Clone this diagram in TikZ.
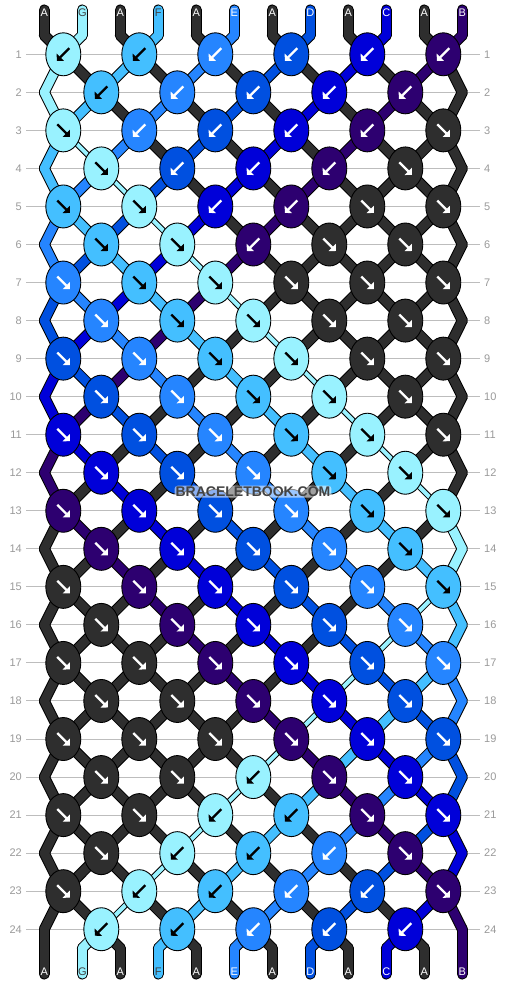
\documentclass[tikz,border=0pt]{standalone}
\usepackage{fontspec}
\setmainfont{Liberation Sans}
\usetikzlibrary{arrows.meta,shapes.geometric}

\definecolor{colA}{HTML}{2E2E2E}
\definecolor{colB}{HTML}{2D0070}
\definecolor{colC}{HTML}{0000D9}
\definecolor{colD}{HTML}{0050E0}
\definecolor{colE}{HTML}{2585FF}
\definecolor{colF}{HTML}{44BFFF}
\definecolor{colG}{HTML}{99F2FF}
\definecolor{rowgray}{HTML}{BDBDBD}
\definecolor{numgray}{HTML}{9A9A9A}

% point of a string (phase #1) at row #2, string start #3
\newcommand\strandpt[3]{%
  \ifnum#2<1
    \pgfmathsetmacro\qx{6.3+38*#3}\def\qy{35.28}\def\qk{0}%
  \else\ifnum#2>24
    \pgfmathsetmacro\qx{6.3+38*#3}\def\qy{948.24}\def\qk{0}%
  \else
    \pgfmathtruncatemacro\strma{mod(#1+#2-1,24)}%
    \pgfmathtruncatemacro\strmb{mod(#1+#2,24)}%
    \pgfmathtruncatemacro\posa{\strma<12 ? \strma+1 : 24-\strma}%
    \pgfmathtruncatemacro\posb{\strmb<12 ? \strmb+1 : 24-\strmb}%
    \pgfmathsetmacro\qx{6.3+19*(\posa+\posb)}%
    \pgfmathsetmacro\qy{16.26+38.04*#2}%
    \ifnum\posa=\posb \def\qk{0}\else\def\qk{1}\fi
  \fi\fi}

\begin{document}
\begin{tikzpicture}[x=1pt, y=-1pt,
    knot/.style={ellipse, draw=black, line width=0.9pt,
      minimum width=35pt, minimum height=43pt, inner sep=0pt},
    arr/.style={line width=2.3pt, -{Triangle[length=5pt,width=10pt]}},
    rowline/.style={draw=rowgray, line width=1pt},
    rownum/.style={text=numgray, inner sep=0pt, font=\fontsize{11}{13}\selectfont},
    strlabel/.style={inner sep=0pt, font=\fontsize{11}{13}\selectfont},
    wmark/.style={inner sep=1pt, font=\bfseries\fontsize{14}{16}\selectfont,
      fill=white, fill opacity=0.55, text opacity=1, rounded corners=3pt}]
	\useasboundingbox (0,0) rectangle (506,984);
	\fill[white] (0,0) rectangle (506,984);

	% row numbers and guide lines
	\foreach \r in {1,...,24} {
			\pgfmathsetmacro\yr{16.26+38.04*\r}
			\node[rownum, anchor=east] (nl-\r) at (22,\yr) {\r};
			\node[rownum, anchor=west] (nr-\r) at (484,\yr) {\r};
			\draw[rowline] ([xshift=4pt]nl-\r.east) -- ([xshift=-4pt]nr-\r.west);
		}

	% string points
	\foreach \s in {1,...,12} {
			\ifodd\s \pgfmathtruncatemacro\strph{\s-1}\else\pgfmathtruncatemacro\strph{24-\s}\fi
			\pgfmathsetmacro\xs{6.3+38*\s}
			\coordinate (top-\s) at (\xs,10);
			\coordinate (bot-\s) at (\xs,974);
			\foreach \r in {0,...,25} {
					\strandpt{\strph}{\r}{\s}
					\coordinate (s-\s-\r) at (\qx,\qy);
					\expandafter\xdef\csname kf-\s-\r\endcsname{\qk}
				}
		}

	% strings: black rim first, then colour
	\foreach \pass in {1,2} {
			\foreach \s/\cl in {1/A,2/G,3/A,4/F,5/A,6/E,7/A,8/D,9/A,10/C,11/A,12/B} {
					\ifnum\pass=1 \def\sc{black}\def\wthick{11}\def\wthin{6}
					\else \def\sc{col\cl}\def\wthick{9}\def\wthin{4}\fi
					\draw[line width=\wthick pt, draw=\sc, line cap=round] (top-\s) -- (s-\s-0);
					\draw[line width=\wthick pt, draw=\sc, line cap=round] (s-\s-25) -- (bot-\s);
					\foreach \r in {1,...,25} {
							\pgfmathtruncatemacro\rp{\r-1}
							\edef\strw{\wthick}
							\if\cl G\ifnum\csname kf-\s-\rp\endcsname\csname kf-\s-\r\endcsname=11 \edef\strw{\wthin}\fi\fi
							\draw[line width=\strw pt, draw=\sc, line cap=round] (s-\s-\rp) -- (s-\s-\r);
						}
				}
		}

	% knots
	\foreach \r/\dirs in {1/{L,L,L,L,L,L}, 2/{L,L,L,L,L}, 3/{R,L,L,L,L,R}, 4/{R,L,L,L,R},
			5/{R,R,L,L,R,R}, 6/{R,R,L,R,R}, 7/{R,R,R,R,R,R}, 8/{R,R,R,R,R},
			9/{R,R,R,R,R,R}, 10/{R,R,R,R,R}, 11/{R,R,R,R,R,R}, 12/{R,R,R,R,R},
			13/{R,R,R,R,R,R}, 14/{R,R,R,R,R}, 15/{R,R,R,R,R,R}, 16/{R,R,R,R,R},
			17/{R,R,R,R,R,R}, 18/{R,R,R,R,R}, 19/{R,R,R,R,R,R}, 20/{R,R,L,R,R},
			21/{R,R,L,L,R,R}, 22/{R,L,L,L,R}, 23/{R,L,L,L,L,R}, 24/{L,L,L,L,L}} {
			\foreach \d [count=\i] in \dirs {
					\ifodd\r \pgfmathtruncatemacro\p{2*\i-1}\else\pgfmathtruncatemacro\p{2*\i}\fi
					\if\d R \pgfmathtruncatemacro\strph{mod(\p-\r+48,24)}%
					\else \pgfmathtruncatemacro\strph{mod(48-\p-\r,24)}\fi
					\ifnum\strph<11 \def\kl{A}\else
						\pgfmathtruncatemacro\sh{(24-\strph)/2}
						\edef\kl{\ifcase\sh\or G\or F\or E\or D\or C\or B\fi}
					\fi
					\def\ac{white}
					\if\kl G\def\ac{black}\fi
					\if\kl F\def\ac{black}\fi
					\node[knot, fill=col\kl] (k-\r-\i) at ({25.3+38*\p}, {16.26+38.04*\r}) {};
					\if\d R
						\draw[arr, draw=\ac] ([shift={(-6,-6)}]k-\r-\i.center) -- ([shift={(6.5,6.5)}]k-\r-\i.center);
					\else
						\draw[arr, draw=\ac] ([shift={(6,-6)}]k-\r-\i.center) -- ([shift={(-6.5,6.5)}]k-\r-\i.center);
					\fi
				}
		}

	% string letters
	\foreach \s/\cl/\tc in {1/A/white,2/G/black!75,3/A/white,4/F/black!75,5/A/white,6/E/white,
			7/A/white,8/D/white,9/A/white,10/C/white,11/A/white,12/B/white} {
			\node[strlabel, text=\tc] (lt-\s) at ({6.3+38*\s},12.7) {\cl};
			\node[strlabel, text=\tc] (lb-\s) at ({6.3+38*\s},971.7) {\cl};
		}

	% watermark
	\node[wmark, text=colA!90] (wm) at (253,491.7) {BRACELETBOOK.COM};
\end{tikzpicture}
\end{document}
